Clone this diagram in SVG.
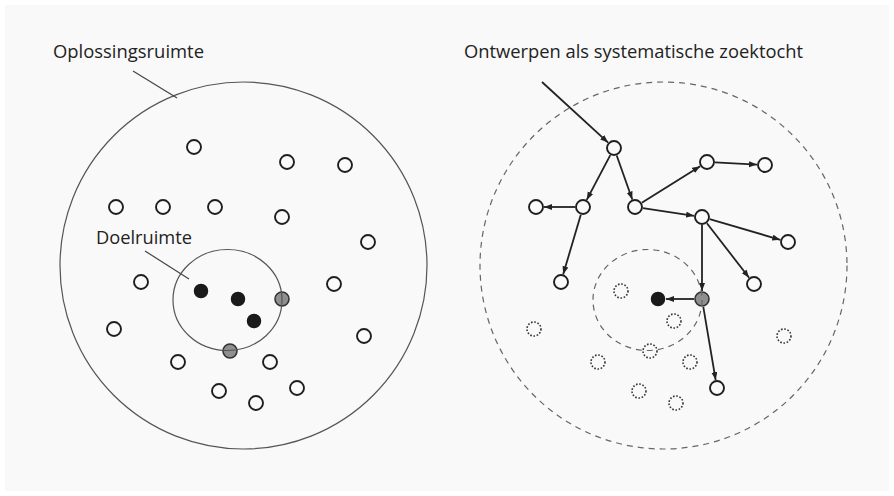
<svg xmlns="http://www.w3.org/2000/svg" width="894" height="496" viewBox="0 0 894 496">
<defs>
<style>
.lbl{font-family:"Open Sans","Liberation Sans",sans-serif;font-size:19px;fill:#222}
.area{fill:none;stroke:#555;stroke-width:1.2}
.dash{fill:none;stroke:#666;stroke-width:1.2;stroke-dasharray:6 5}
.lead{stroke:#444;stroke-width:1.2}
.n{fill:#fafafa;stroke:#1e1e1e;stroke-width:1.9}
.blk{fill:#1a1a1a;stroke:#1a1a1a;stroke-width:1.5}
.gry{fill:#8f8f8f;stroke:#333;stroke-width:1.6}
.dot{fill:none;stroke:#333;stroke-width:1.6;stroke-dasharray:1.6 1.7}
.e{stroke:#222;stroke-width:1.8;fill:none;marker-end:url(#ah)}
</style>
<marker id="ah" markerUnits="userSpaceOnUse" markerWidth="9" markerHeight="7" refX="8" refY="3" orient="auto">
<path d="M0,0 L8,3 L0,6 z" fill="#222"/>
</marker>
</defs>
<rect width="894" height="496" fill="#ffffff"/>
<rect x="5" y="5" width="884" height="486" fill="#f9f9f9"/>

<g id="left-panel">
<g id="oplossingsruimte">
<circle class="area" cx="243.5" cy="265.5" r="183.5"/>
<text class="lbl" x="53" y="58" textLength="151" lengthAdjust="spacingAndGlyphs">Oplossingsruimte</text>
<line class="lead" x1="133" y1="71" x2="177" y2="98"/>
</g>
<g id="doelruimte">
<text class="lbl" x="96" y="244" textLength="96" lengthAdjust="spacingAndGlyphs">Doelruimte</text>
<line class="lead" x1="145" y1="251" x2="189" y2="279"/>
</g>
<g id="left-solutions">
<circle class="n" cx="194" cy="147" r="7"/>
<circle class="n" cx="287" cy="162" r="7"/>
<circle class="n" cx="345" cy="165" r="7"/>
<circle class="n" cx="116" cy="207" r="7"/>
<circle class="n" cx="163" cy="207" r="7"/>
<circle class="n" cx="215" cy="207" r="7"/>
<circle class="n" cx="282" cy="217" r="7"/>
<circle class="n" cx="368" cy="242" r="7"/>
<circle class="n" cx="141" cy="282" r="7"/>
<circle class="n" cx="334" cy="284" r="7"/>
<circle class="n" cx="114" cy="329" r="7"/>
<circle class="n" cx="364" cy="336" r="7"/>
<circle class="n" cx="178" cy="362" r="7"/>
<circle class="n" cx="270" cy="362" r="7"/>
<circle class="n" cx="219" cy="391" r="7"/>
<circle class="n" cx="256" cy="403" r="7"/>
<circle class="n" cx="297" cy="388" r="7"/>
<circle class="blk" cx="201" cy="291" r="6.5"/>
<circle class="blk" cx="238" cy="299" r="6.5"/>
<circle class="blk" cx="254" cy="321" r="6.5"/>
<circle class="gry" cx="282" cy="299" r="7"/>
<circle class="gry" cx="230" cy="351" r="7"/>
</g>
<ellipse class="area" cx="227.5" cy="300" rx="54.5" ry="50.5"/>
</g>

<g id="right-panel">
<g id="zoektocht">
<circle class="dash" cx="663.5" cy="265.5" r="183.5"/>
<text class="lbl" x="464" y="58" textLength="339" lengthAdjust="spacingAndGlyphs">Ontwerpen als systematische zoektocht</text>
</g>
<g id="connectors">
<line class="e" x1="542" y1="82" x2="608.1" y2="142.6"/>
<line class="e" x1="610.3" y1="155.1" x2="586.7" y2="199.9"/>
<line class="e" x1="616.7" y1="155.5" x2="632.3" y2="199.5"/>
<line class="e" x1="575" y1="207" x2="544" y2="207"/>
<line class="e" x1="580.8" y1="214.7" x2="563.2" y2="274.3"/>
<line class="e" x1="641.8" y1="202.8" x2="700.2" y2="166.2"/>
<line class="e" x1="715" y1="162.4" x2="757" y2="164.6"/>
<line class="e" x1="642.9" y1="208.2" x2="694.1" y2="215.8"/>
<line class="e" x1="709.7" y1="219.2" x2="780.3" y2="239.8"/>
<line class="e" x1="706.9" y1="223.3" x2="749.1" y2="277.7"/>
<line class="e" x1="702" y1="225" x2="702" y2="291"/>
<line class="e" x1="694" y1="299" x2="666" y2="299"/>
<line class="e" x1="703.3" y1="306.9" x2="715.7" y2="380.1"/>
</g>
<g id="unvisited">
<circle class="dot" cx="621" cy="291" r="7"/>
<circle class="dot" cx="674" cy="321" r="7"/>
<circle class="dot" cx="650" cy="351" r="7"/>
<circle class="dot" cx="534" cy="329" r="7"/>
<circle class="dot" cx="598" cy="362" r="7"/>
<circle class="dot" cx="690" cy="362" r="7"/>
<circle class="dot" cx="639" cy="391" r="7"/>
<circle class="dot" cx="676" cy="403" r="7"/>
<circle class="dot" cx="784" cy="336" r="7"/>
</g>
<g id="nodeA"><circle class="n" cx="614" cy="148" r="7"/></g>
<g id="nodeB"><circle class="n" cx="583" cy="207" r="7"/></g>
<g id="nodeC"><circle class="n" cx="536" cy="207" r="7"/></g>
<g id="nodeD"><circle class="n" cx="635" cy="207" r="7"/></g>
<g id="nodeE"><circle class="n" cx="707" cy="162" r="7"/></g>
<g id="nodeF"><circle class="n" cx="765" cy="165" r="7"/></g>
<g id="nodeG"><circle class="n" cx="702" cy="217" r="7"/></g>
<g id="nodeH"><circle class="n" cx="788" cy="242" r="7"/></g>
<g id="nodeI"><circle class="n" cx="561" cy="282" r="7"/></g>
<g id="nodeJ"><circle class="n" cx="754" cy="284" r="7"/></g>
<g id="nodeK"><circle class="gry" cx="702" cy="299" r="7"/></g>
<g id="nodeL"><circle class="blk" cx="658" cy="299" r="6.5"/></g>
<g id="nodeM"><circle class="n" cx="717" cy="388" r="7"/></g>
<ellipse class="dash" cx="647.5" cy="300" rx="54.5" ry="50.5" stroke-dasharray="5 4"/>
</g>
</svg>
